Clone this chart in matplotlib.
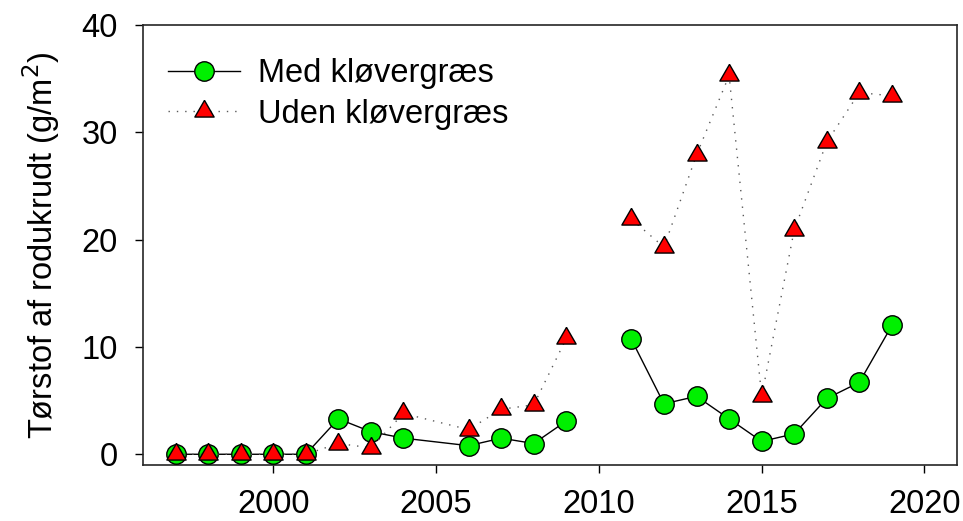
import numpy as np
import matplotlib
matplotlib.use("Agg")
import matplotlib.pyplot as plt

plt.rcParams['font.family'] = ['Liberation Sans', 'DejaVu Sans']

years = [1997, 1998, 1999, 2000, 2001, 2002, 2003, 2004, 2006, 2007, 2008, 2009,
         2010, 2011, 2012, 2013, 2014, 2015, 2016, 2017, 2018, 2019]
# 2010 has no measurement -> gap in the lines
med = [0, 0, 0, 0, 0, 3.3, 2.1, 1.5, 0.8, 1.5, 1.0, 3.1,
       np.nan, 10.7, 4.7, 5.4, 3.3, 1.2, 1.9, 5.2, 6.7, 12.0]
uden = [0, 0, 0, 0, 0, 1.0, 0.6, 3.8, 2.3, 4.2, 4.6, 10.8,
        np.nan, 21.9, 19.3, 27.9, 35.3, 5.4, 20.9, 29.1, 33.7, 33.4]

labels = ['Med kløvergræs', 'Uden kløvergræs']
xticks = [2000, 2005, 2010, 2015, 2020]
yticks = [0, 10, 20, 30, 40]

# equilateral triangle inscribed in the marker circle (SigmaPlot style)
tri = [(0, 1), (-0.866, -0.5), (0.866, -0.5), (0, 1)]

fig = plt.figure(figsize=(9.63, 5.21), dpi=100)
ax = fig.add_axes([0.1485, 0.1075, 0.8453, 0.8445])

ax.plot(years, med, '-', color='black', lw=1, marker='o', ms=14,
        mfc='#00f000', mec='black', mew=1, label=labels[0], zorder=3)
ax.plot(years, uden, color='0.35', lw=1, ls=(0, (1, 5)), marker=tri, ms=16,
        mfc='#ff0000', mec='black', mew=1, label=labels[1], zorder=4)

ax.set_xlim(1996, 2021)
ax.set_ylim(-1, 40)
ax.set_xticks(xticks)
ax.set_yticks(yticks)
ax.tick_params(direction='out', length=6, width=1, labelsize=23.5)
ax.tick_params(axis='x', pad=11)
ax.tick_params(axis='y', pad=12)
for s in ax.spines.values():
    s.set_linewidth(1.2)
    s.set_color('0.15')

ax.set_ylabel('Tørstof af rodukrudt (g/m$^2$)', fontsize=23.5, labelpad=14)

ax.legend(loc='upper left', bbox_to_anchor=(0.031, 0.925), frameon=False,
          fontsize=23.5, borderpad=0, handlelength=2.2, handletextpad=0.55,
          labelspacing=0.3, borderaxespad=0)

fig.savefig('out.png', dpi=100)
